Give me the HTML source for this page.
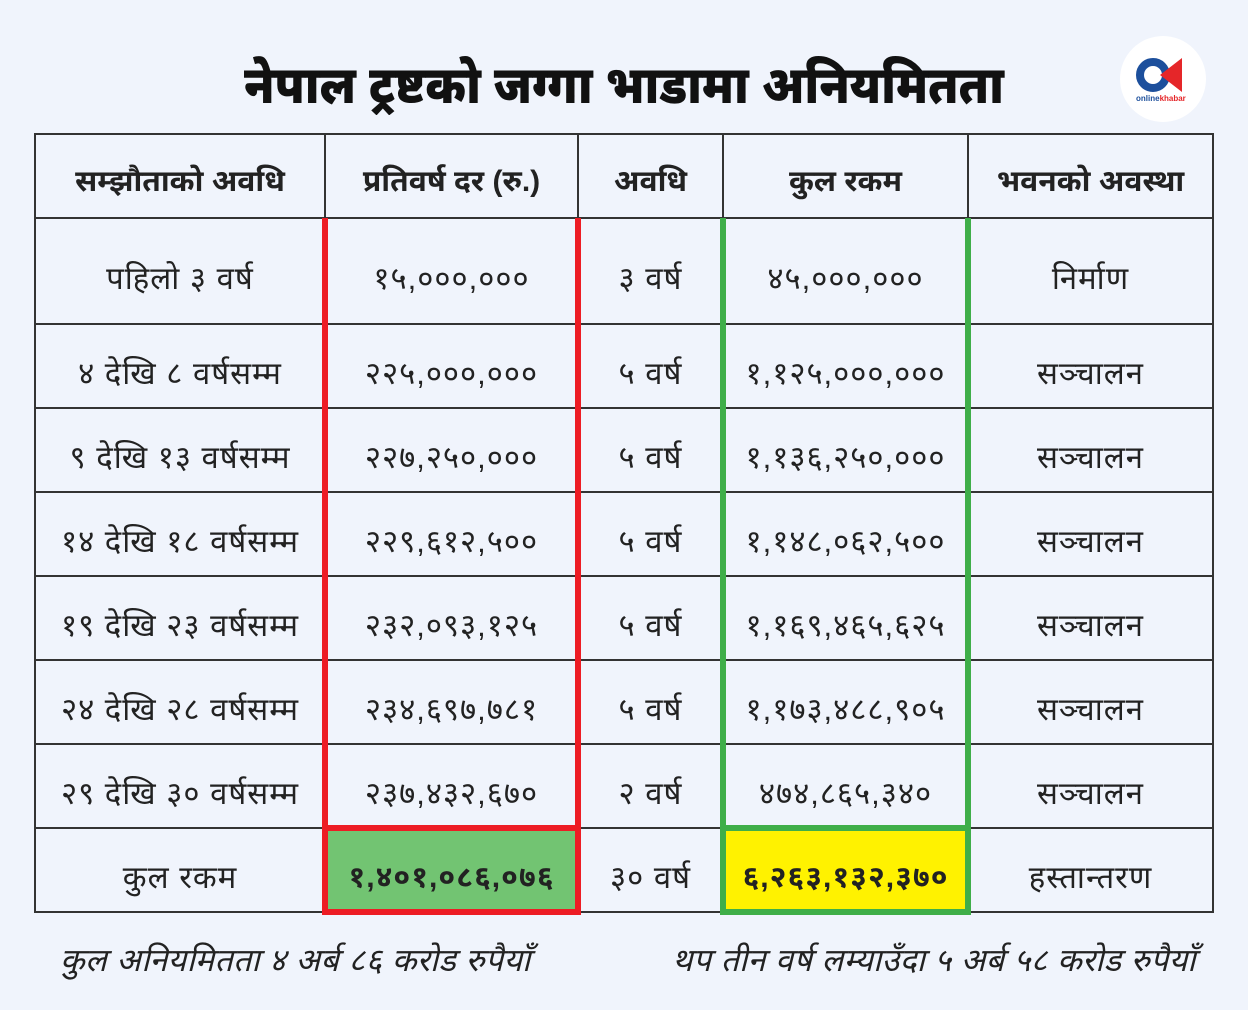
<!DOCTYPE html>
<html><head><meta charset="utf-8"><style>
body{margin:0;width:1248px;height:1010px;background:#f0f4fc;position:relative;overflow:hidden;font-family:"Liberation Sans","Noto Sans Devanagari","Lohit Devanagari",sans-serif;color:#222}
.t{position:absolute;left:0;width:1248px;top:56px;text-align:center;font-size:52px;font-weight:900;color:#111;transform:scaleX(0.9);transform-origin:624px 0}
.h,.v{position:absolute;background:#333}
.c{position:absolute;display:flex;align-items:center;justify-content:center;font-size:31px;color:#222;padding-top:20px;box-sizing:border-box;letter-spacing:1px}
.b{font-weight:bold;font-size:30px;padding-top:16px;letter-spacing:0}
.r{position:absolute;background:#ed1c24}
.g{position:absolute;background:#3fae49}
.f{position:absolute;font-style:italic;font-size:32px;top:942px;color:#222;letter-spacing:0.4px}
</style></head><body>
<div class="t">नेपाल ट्रष्टको जग्गा भाडामा अनियमितता</div>
<div style="position:absolute;left:1120px;top:36px;width:86px;height:86px;border-radius:50%;background:#fff"></div>
<div style="position:absolute;left:1136px;top:58px;border-radius:50%;border:8px solid #1c4f9c;box-sizing:border-box;width:34px;height:34px"></div>
<div style="position:absolute;left:1160px;top:58px;width:0;height:0;border-top:17px solid transparent;border-bottom:17px solid transparent;border-right:22px solid #e52629"></div>
<div style="position:absolute;left:1136px;top:94px;font-size:8px;font-weight:bold;color:#1c4f9c">online<span style="color:#e52629">khabar</span></div>

<div class="h" style="left:34px;top:133px;width:1180px;height:2px"></div>
<div class="h" style="left:34px;top:217px;width:1180px;height:2px"></div>
<div class="h" style="left:34px;top:323px;width:1180px;height:2px"></div>
<div class="h" style="left:34px;top:407px;width:1180px;height:2px"></div>
<div class="h" style="left:34px;top:491px;width:1180px;height:2px"></div>
<div class="h" style="left:34px;top:575px;width:1180px;height:2px"></div>
<div class="h" style="left:34px;top:659px;width:1180px;height:2px"></div>
<div class="h" style="left:34px;top:743px;width:1180px;height:2px"></div>
<div class="h" style="left:34px;top:827px;width:1180px;height:2px"></div>
<div class="h" style="left:34px;top:911px;width:1180px;height:2px"></div>
<div class="v" style="left:34px;top:133px;width:2px;height:780px"></div>
<div class="v" style="left:324px;top:133px;width:2px;height:780px"></div>
<div class="v" style="left:577px;top:133px;width:2px;height:780px"></div>
<div class="v" style="left:722px;top:133px;width:2px;height:780px"></div>
<div class="v" style="left:967px;top:133px;width:2px;height:780px"></div>
<div class="v" style="left:1212px;top:133px;width:2px;height:780px"></div>

<div style="position:absolute;left:325px;top:828px;width:253px;height:84px;background:#72c472"></div>
<div style="position:absolute;left:723px;top:828px;width:245px;height:84px;background:#fff200"></div>
<div class="r" style="left:322px;top:218px;width:6px;height:696px"></div>
<div class="r" style="left:575px;top:218px;width:6px;height:696px"></div>
<div class="r" style="left:322px;top:825px;width:259px;height:6px"></div>
<div class="r" style="left:322px;top:909px;width:259px;height:6px"></div>
<div class="g" style="left:720px;top:218px;width:6px;height:696px"></div>
<div class="g" style="left:965px;top:218px;width:6px;height:696px"></div>
<div class="g" style="left:720px;top:825px;width:251px;height:6px"></div>
<div class="g" style="left:720px;top:909px;width:251px;height:6px"></div>

<div class="c b" style="left:35px;top:134px;width:290px;height:84px">सम्झौताको अवधि</div>
<div class="c b" style="left:325px;top:134px;width:253px;height:84px">प्रतिवर्ष दर (रु.)</div>
<div class="c b" style="left:578px;top:134px;width:145px;height:84px">अवधि</div>
<div class="c b" style="left:723px;top:134px;width:245px;height:84px">कुल रकम</div>
<div class="c b" style="left:968px;top:134px;width:245px;height:84px">भवनको अवस्था</div>

<div class="c" style="left:35px;top:218px;width:290px;height:106px">पहिलो ३ वर्ष</div>
<div class="c" style="left:325px;top:218px;width:253px;height:106px">१५,०००,०००</div>
<div class="c" style="left:578px;top:218px;width:145px;height:106px">३ वर्ष</div>
<div class="c" style="left:723px;top:218px;width:245px;height:106px">४५,०००,०००</div>
<div class="c" style="left:968px;top:218px;width:245px;height:106px">निर्माण</div>

<div class="c" style="left:35px;top:324px;width:290px;height:84px">४ देखि ८ वर्षसम्म</div>
<div class="c" style="left:325px;top:324px;width:253px;height:84px">२२५,०००,०००</div>
<div class="c" style="left:578px;top:324px;width:145px;height:84px">५ वर्ष</div>
<div class="c" style="left:723px;top:324px;width:245px;height:84px">१,१२५,०००,०००</div>
<div class="c" style="left:968px;top:324px;width:245px;height:84px">सञ्चालन</div>

<div class="c" style="left:35px;top:408px;width:290px;height:84px">९ देखि १३ वर्षसम्म</div>
<div class="c" style="left:325px;top:408px;width:253px;height:84px">२२७,२५०,०००</div>
<div class="c" style="left:578px;top:408px;width:145px;height:84px">५ वर्ष</div>
<div class="c" style="left:723px;top:408px;width:245px;height:84px">१,१३६,२५०,०००</div>
<div class="c" style="left:968px;top:408px;width:245px;height:84px">सञ्चालन</div>

<div class="c" style="left:35px;top:492px;width:290px;height:84px">१४ देखि १८ वर्षसम्म</div>
<div class="c" style="left:325px;top:492px;width:253px;height:84px">२२९,६१२,५००</div>
<div class="c" style="left:578px;top:492px;width:145px;height:84px">५ वर्ष</div>
<div class="c" style="left:723px;top:492px;width:245px;height:84px">१,१४८,०६२,५००</div>
<div class="c" style="left:968px;top:492px;width:245px;height:84px">सञ्चालन</div>

<div class="c" style="left:35px;top:576px;width:290px;height:84px">१९ देखि २३ वर्षसम्म</div>
<div class="c" style="left:325px;top:576px;width:253px;height:84px">२३२,०९३,१२५</div>
<div class="c" style="left:578px;top:576px;width:145px;height:84px">५ वर्ष</div>
<div class="c" style="left:723px;top:576px;width:245px;height:84px">१,१६९,४६५,६२५</div>
<div class="c" style="left:968px;top:576px;width:245px;height:84px">सञ्चालन</div>

<div class="c" style="left:35px;top:660px;width:290px;height:84px">२४ देखि २८ वर्षसम्म</div>
<div class="c" style="left:325px;top:660px;width:253px;height:84px">२३४,६९७,७८१</div>
<div class="c" style="left:578px;top:660px;width:145px;height:84px">५ वर्ष</div>
<div class="c" style="left:723px;top:660px;width:245px;height:84px">१,१७३,४८८,९०५</div>
<div class="c" style="left:968px;top:660px;width:245px;height:84px">सञ्चालन</div>

<div class="c" style="left:35px;top:744px;width:290px;height:84px">२९ देखि ३० वर्षसम्म</div>
<div class="c" style="left:325px;top:744px;width:253px;height:84px">२३७,४३२,६७०</div>
<div class="c" style="left:578px;top:744px;width:145px;height:84px">२ वर्ष</div>
<div class="c" style="left:723px;top:744px;width:245px;height:84px">४७४,८६५,३४०</div>
<div class="c" style="left:968px;top:744px;width:245px;height:84px">सञ्चालन</div>

<div class="c" style="left:35px;top:828px;width:290px;height:84px">कुल रकम</div>
<div class="c b" style="left:325px;top:828px;width:253px;height:84px;padding-top:20px;letter-spacing:1px">१,४०१,०८६,०७६</div>
<div class="c" style="left:578px;top:828px;width:145px;height:84px">३० वर्ष</div>
<div class="c b" style="left:723px;top:828px;width:245px;height:84px;padding-top:20px;letter-spacing:1px">६,२६३,१३२,३७०</div>
<div class="c" style="left:968px;top:828px;width:245px;height:84px">हस्तान्तरण</div>

<div class="f" style="left:60px">कुल अनियमितता ४ अर्ब ८६ करोड रुपैयाँ</div>
<div class="f" style="right:52px">थप तीन वर्ष लम्याउँदा ५ अर्ब ५८ करोड रुपैयाँ</div>
</body></html>
